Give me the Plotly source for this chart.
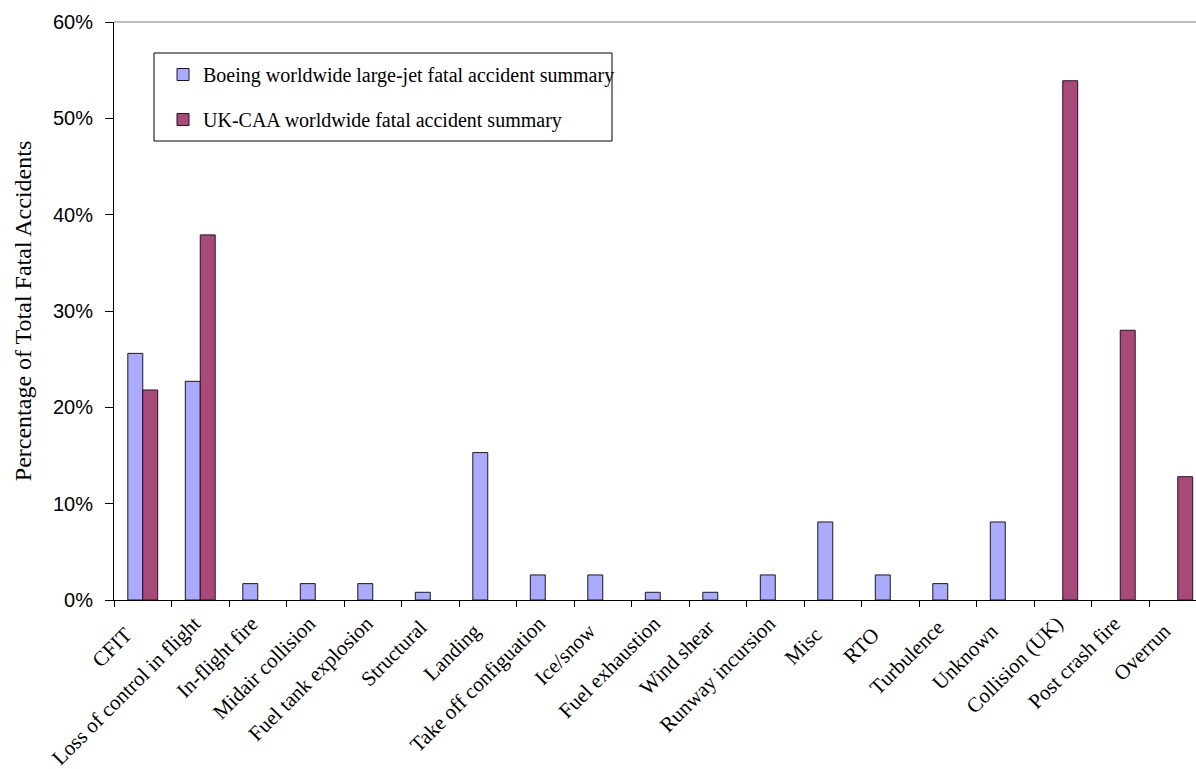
import plotly.graph_objects as go

categories = ["CFIT", "Loss of control in flight", "In-flight fire", "Midair collision",
              "Fuel tank explosion", "Structural", "Landing", "Take off configuation",
              "Ice/snow", "Fuel exhaustion", "Wind shear", "Runway incursion", "Misc",
              "RTO", "Turbulence", "Unknown", "Collision (UK)", "Post crash fire", "Overrun"]
boeing = [25.6, 22.7, 1.7, 1.7, 1.7, 0.8, 15.3, 2.6, 2.6, 0.8, 0.8, 2.6, 8.1, 2.6, 1.7, 8.1,
          None, None, None]
ukcaa = [21.8, 37.9, None, None, None, None, None, None, None, None, None, None, None, None,
         None, None, 53.9, 28.0, 12.8]
yticks = [0, 10, 20, 30, 40, 50, 60]
ytick_text = ["0%", "10%", "20%", "30%", "40%", "50%", "60%"]

W, H = 1196, 769
L, T, B = 114, 22, 169
serif = "Liberation Serif, Times New Roman, serif"
sans = "Liberation Sans, Arial, sans-serif"

# short labels are centred a little further down their slant (as in the original)
NBSP = "\u00a0"
def padded(label):
    n = max(0, round((13 - len(label)) / 3))
    return label + NBSP * n

fig = go.Figure()
fig.add_trace(go.Bar(x=categories, y=boeing, name="Boeing worldwide large-jet fatal accident summary",
                     marker=dict(color="#AAAAFF", line=dict(color="#1a1a1a", width=1)),
                     legendgroup="a"))
fig.add_trace(go.Bar(x=categories, y=ukcaa, name="UK-CAA worldwide fatal accident summary",
                     marker=dict(color="#A8497A", line=dict(color="#2a1020", width=1)),
                     legendgroup="b"))

plot_w = W - L
plot_h = H - T - B
cat_w = 57.5
xmax = plot_w / cat_w - 0.5

fig.update_layout(
    width=W, height=H,
    margin=dict(l=L, r=0, t=T, b=B, pad=0, autoexpand=False),
    plot_bgcolor="white", paper_bgcolor="white",
    barmode="group", bargap=0.48, bargroupgap=0,
    showlegend=True,
    legend=dict(x=(163 - L) / plot_w, y=1 - (55 - T) / plot_h, xanchor="left", yanchor="top",
                font=dict(family=serif, size=20, color="black"),
                bgcolor="rgba(0,0,0,0)", borderwidth=0, tracegroupgap=16,
                traceorder="grouped"),
    xaxis=dict(range=[-0.5, xmax], tickangle=-45, tickson="boundaries",
               tickmode="array", tickvals=categories, ticktext=[padded(c) for c in categories],
               ticks="outside", ticklen=6, tickcolor="black", tickwidth=1,
               showline=True, linecolor="black", linewidth=1, automargin=False,
               showgrid=False, zeroline=False, ticklabelstandoff=2, ticklabelshift=-6,
               tickfont=dict(family=serif, size=21, color="black")),
    yaxis=dict(range=[0, 60], tickvals=yticks, ticktext=ytick_text,
               ticks="outside", ticklen=8, tickcolor="black", tickwidth=1,
               showline=True, linecolor="black", linewidth=1, automargin=False,
               showgrid=False, zeroline=False, ticklabelstandoff=8,
               tickfont=dict(family=sans, size=20, color="black"),
               title=dict(text="Percentage of Total Fatal Accidents",
                          font=dict(family=serif, size=24, color="black"), standoff=14)),
    shapes=[
        dict(type="line", xref="paper", yref="paper", x0=0, x1=1, y0=1, y1=1,
             line=dict(color="#808080", width=1)),
        dict(type="rect", xref="paper", yref="paper",
             x0=(154 - L) / plot_w, x1=(612 - L) / plot_w,
             y0=1 - (141 - T) / plot_h, y1=1 - (53 - T) / plot_h,
             line=dict(color="black", width=1), fillcolor="rgba(0,0,0,0)"),
    ],
)

fig.write_html("out.html")
